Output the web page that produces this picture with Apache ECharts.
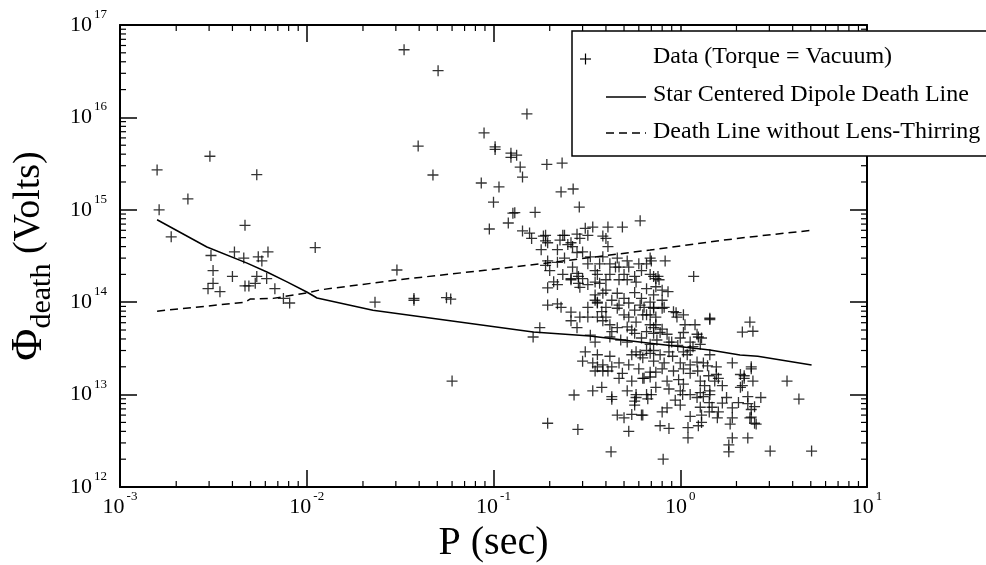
<!DOCTYPE html>
<html><head><meta charset="utf-8">
<script src="https://cdn.jsdelivr.net/npm/echarts@6/dist/echarts.min.js"></script>
<style>html,body{margin:0;padding:0;background:#fff}#c{width:986px;height:565px}</style>
</head><body><div id="c"></div>
<script>
const legendNames = ['Data (Torque = Vacuum)', 'Star Centered Dipole Death Line', 'Death Line without Lens-Thirring'];
const xName = 'P (sec)';
const xRange = [1e-3, 1e1];
const yRange = [1e12, 1e17];

// pulsar data: [P (s), Phi_death (V)]
const pulsarData = [
[1.58e-3,2.7e15],[1.62e-3,1.0e15],[1.88e-3,5.1e14],[2.31e-3,1.31e15],[3.03e-3,3.8e15],[5.4e-3,2.4e15],[4.67e-3,6.8e14],[1.11e-2,3.9e14],
[3.07e-3,3.2e14],[4.1e-3,3.5e14],[4.6e-3,3.0e14],[5.5e-3,3.1e14],[5.75e-3,2.8e14],[6.2e-3,3.5e14],[3.15e-3,2.2e14],[4.0e-3,1.9e14],[5.4e-3,1.9e14],
[2.96e-3,1.4e14],[3.15e-3,1.6e14],[3.43e-3,1.3e14],[4.67e-3,1.5e14],[4.9e-3,1.5e14],[5.3e-3,1.6e14],[6.1e-3,1.8e14],[6.75e-3,1.4e14],[7.5e-3,1.1e14],[8.1e-3,9.8e13],
[3.32e-2,5.4e16],[5.05e-2,3.2e16],[0.151,1.09e16],[3.95e-2,4.9e15],[8.9e-2,6.8e15],[0.102,4.8e15],[0.102,4.5e15],[0.124,4.1e15],[0.133,3.9e15],[0.124,3.7e15],
[0.139,2.9e15],[0.143,2.26e15],[0.193,3.1e15],[0.233,3.2e15],[4.74e-2,2.38e15],[8.6e-2,1.95e15],[0.107,1.77e15],[0.1,1.21e15],[0.23,1.56e15],[0.267,1.68e15],
[0.288,1.07e15],[0.127,9.2e14],[0.13,9.3e14],[0.167,9.4e14],[0.12,7.2e14],[0.095,6.2e14],[3.04e-2,2.23e14],[2.32e-2,1.0e14],[3.75e-2,1.05e14],[3.75e-2,1.1e14],
[5.6e-2,1.12e14],[5.9e-2,1.08e14],[6.0e-2,1.4e13],[0.163,4.2e13],[0.177,5.3e13],[0.195,4.9e12],[0.283,4.2e12],[0.426,2.4e12],
[0.61,7.6e14],[0.34,6.5e14],[0.41,6.5e14],[0.49,6.5e14],[0.31,6.3e14],[0.143,5.9e14],[0.156,5.6e14],[0.185,5.2e14],[0.19,5.3e14],[0.235,5.3e14],[0.24,5.3e14],
[0.28,5.45e14],[0.32,5.3e14],[0.385,5.2e14],[0.4,4.9e14],[0.16,4.9e14],[0.19,4.6e14],[0.227,4.7e14],[0.195,4.4e14],[0.25,4.2e14],[0.265,4.0e14],[0.41,4.0e14],
[0.18,3.7e14],[0.22,3.7e14],[0.28,3.45e14],[0.24,3.0e14],[0.33,3.1e14],[0.52,2.8e14],[0.69,3.0e14],[0.195,2.8e14],[0.19,2.5e14],[0.22,2.7e14],[0.32,2.6e14],
[0.37,2.6e14],[0.42,2.6e14],[0.45,2.4e14],[0.6,2.6e14],[0.66,2.6e14],[0.265,2.4e14],[0.2,2.2e14],[0.235,2.0e14],[0.28,2.05e14],[0.285,1.9e14],[0.36,2.0e14],
[0.42,2.0e14],[0.5,2.0e14],[0.57,1.9e14],[0.69,2.0e14],
[0.7,2.8e14],[0.83,2.8e14],[0.72,1.9e14],[0.76,1.9e14],[1.18,1.9e14],
[0.21,1.66e14],[0.195,1.43e14],[0.22,1.55e14],[0.26,1.75e14],[0.29,1.45e14],[0.32,1.55e14],[0.37,1.6e14],[0.4,1.35e14],[0.47,1.75e14],[0.52,1.75e14],
[0.58,1.65e14],[0.57,1.27e14],[0.66,1.4e14],[0.195,9.3e13],[0.22,9.6e13],[0.23,8.8e13],[0.26,7.8e13],[0.29,6.9e13],[0.32,6.9e13],[0.26,6.3e13],[0.28,5.3e13],
[0.32,8.8e13],[0.35,1.05e14],[0.36,9.8e13],[0.38,7.9e13],[0.4,8.8e13],[0.43,1.05e14],[0.46,8.6e13],[0.47,9.3e13],[0.5,7.3e13],[0.53,6.9e13],[0.57,8.2e13],
[0.61,9.3e13],[0.64,8.8e13],[0.66,7.3e13],[0.385,6.3e13],[0.42,5.7e13],[0.46,5.3e13],[0.52,5.4e13],[0.55,5.0e13],[0.33,4.4e13],[0.35,3.7e13],[0.42,4.2e13],
[0.48,3.9e13],[0.52,3.7e13],[0.62,4.1e13],[0.69,3.5e13],[0.31,2.9e13],[0.36,2.7e13],[0.3,2.3e13],[0.34,2.2e13],[0.42,2.6e13],[0.47,2.2e13],[0.55,2.7e13],
[0.58,2.9e13],[0.63,2.5e13],[0.66,3.0e13],
[0.74,1.8e14],[0.77,1.75e14],[0.74,1.47e14],[0.8,1.35e14],[0.86,1.3e14],[0.72,8.8e13],[0.82,8.8e13],[0.92,7.9e13],[0.95,7.7e13],[1.44,6.7e13],[1.44,6.5e13],
[2.36,6.1e13],[2.15,4.75e13],[2.45,4.85e13],[1.06,5.7e13],[1.2,5.7e13],[0.74,5.7e13],[0.8,5.1e13],[1.25,4.2e13],[1.3,4.1e13],[0.75,3.9e13],[0.87,3.7e13],
[0.97,3.4e13],[1.17,3.3e13],[1.44,2.7e13],[0.78,2.7e13],[0.91,2.6e13],[1.09,2.7e13],[1.23,2.25e13],[0.82,2.2e13],[1.9,2.2e13],[1.56,2.0e13],[2.4,2.0e13],[1.4,2.05e13],
[0.27,9.9e12],[0.34,1.1e13],[0.38,1.2e13],[0.43,9.5e12],[0.43,8.9e12],[0.57,8.5e12],[0.46,6.0e12],[0.5,5.6e12],[0.53,4.0e12],[0.62,6.0e12],[0.35,1.8e13],
[0.41,1.8e13],[0.47,1.5e13],[0.55,1.4e13],[0.52,1.1e13],[0.6,1.9e13],[0.64,1.5e13],[0.69,1.55e13],[0.58,9.3e12],[0.57,7.7e12],[0.66,1.0e13],[0.67,9.0e12],
[0.55,6.1e12],[0.63,6.0e12],
[0.74,1.75e13],[0.85,1.4e13],[0.98,1.45e13],[1.04,1.3e13],[1.0,1.1e13],[1.24,1.8e13],[1.42,1.6e13],[1.56,1.65e13],[1.6,1.5e13],[2.1,1.65e13],[2.2,1.5e13],
[2.4,1.9e13],[2.45,1.4e13],[2.1,1.2e13],[2.15,1.25e13],[3.73,1.4e13],[4.32,8.95e12],[0.74,1.2e13],[0.7,1.0e13],[1.23,9.3e12],[1.33,9.5e12],[1.44,1.0e13],
[1.43,8.2e12],[1.77,9.3e12],[2.05,8.2e12],[2.3,8.0e12],[2.7,9.3e12],[0.94,8.7e12],[1.0,7.7e12],[0.85,7.2e12],[0.8,6.5e12],[1.13,5.8e12],[1.3,6.0e12],
[1.43,6.5e12],[1.58,5.6e12],[1.6,6.5e12],[1.9,7.2e12],[1.9,5.6e12],[2.4,6.9e12],[2.36,5.6e12],[2.55,4.8e12],[1.3,5.0e12],[1.25,4.6e12],[0.78,4.6e12],
[0.87,4.3e12],[1.1,4.4e12],[1.85,4.8e12],[1.1,3.4e12],[1.9,3.4e12],[2.3,3.4e12],[1.82,2.85e12],[1.82,2.4e12],[3.03,2.45e12],[5.05,2.45e12],[0.81,2.0e12],
[2.3,9.5e12],[2.5,7.4e12],[2.4,5.7e12],[2.5,4.9e12],[2.2,1.6e13],
[0.26,1.8e14],[0.285,1.6e14],[0.3,1.8e14],[0.35,1.65e14],[0.4,1.75e14],[0.35,1.2e14],[0.385,1.25e14],[0.36,1.0e14],[0.46,1.25e14],[0.5,1.1e14],
[0.53,9.8e13],[0.62,1.1e14],[0.69,1.0e14],[0.72,8.6e13],[0.63,7.3e13],[0.58,6.1e13],[0.69,5.7e13],[0.66,4.8e13],[0.72,4.6e13],[0.4,6.9e13],
[0.36,6.9e13],[0.43,4.8e13],[0.57,4.6e13],[0.61,2.7e13],[0.69,2.8e13],[0.72,2.3e13],[0.53,2.1e13],[0.385,2.1e13],
[0.69,7.3e13],[0.74,6.9e13],[0.72,5.3e13],[0.78,4.7e13],[0.85,4.5e13],[0.9,3.7e13],[1.0,4.1e13],[1.04,4.7e13],[1.13,3.7e13],[1.23,4.5e13],
[1.28,3.5e13],[1.04,2.9e13],[1.13,3.0e13],[0.87,2.9e13],[0.72,3.0e13],[1.0,2.2e13],[1.13,2.1e13],[1.33,2.2e13],[0.8,8.6e13],[0.96,6.9e13],
[1.04,7.3e13],[0.72,1.2e14],[0.8,1.05e14],
[0.69,1.75e13],[0.8,1.9e13],[0.92,1.8e13],[1.04,1.9e13],[1.13,1.7e13],[1.28,1.4e13],[1.35,1.25e13],[1.53,1.4e13],[1.68,1.25e13],[1.28,1.05e13],
[1.44,1.1e13],[1.13,1.0e13],[0.87,1.15e13],[1.03,1.0e13],[1.68,8.1e12],[1.48,7.3e12],[1.28,7.3e12],
[0.36,2.0e13],[0.385,1.8e13],[0.43,2.0e13],[0.49,1.7e13],[0.63,1.5e13],[0.58,1.0e13],
[0.26,4.4e14],[0.29,4.9e14],[0.3,3.5e14],[0.385,3.1e14],[0.46,3.0e14],[0.35,2.2e14],[0.47,2.4e14],[0.53,2.4e14],[0.62,2.2e14]
];

// death lines: [P (s), Phi (V)]
const dipoleLine = [
[1.58e-3,7.8e14],[2.92e-3,3.96e14],[4.79e-3,2.65e14],[6.12e-3,2.12e14],[7.84e-3,1.66e14],[1.0e-2,1.29e14],[1.135e-2,1.11e14],
[2.26e-2,8.2e13],[0.163,4.75e13],[0.329,4.3e13],[0.689,3.6e13],[1.44,3.04e13],[2.09,2.68e13],[2.6,2.6e13],[5.05,2.09e13]
];
const noLenseThirringLine = [
[1.58e-3,8.0e13],[4.67e-3,1.0e14],[4.97e-3,1.08e14],[6.6e-3,1.1e14],[1.0e-2,1.26e14],[1.18e-2,1.36e14],[3.04e-2,1.74e14],
[9.2e-2,2.23e14],[0.193,2.65e14],[0.42,3.24e14],[0.689,3.67e14],[1.57,4.6e14],[2.36,5.08e14],[5.05,6.0e14]
];
const minorMultipliers = [2,3,4,5,6,7,8,9];

const FONT = '"Liberation Serif", "Times New Roman", serif';
const chart = echarts.init(document.getElementById('c'), null, {renderer: 'canvas'});

function expLabel(v) { const e = Math.round(Math.log10(v)); return '{b|10}{s|' + e + '}'; }
const labelRich = {
  b: {fontFamily: FONT, fontSize: 22, color: '#000', lineHeight: 34},
  s: {fontFamily: FONT, fontSize: 13, color: '#000', verticalAlign: 'top', lineHeight: 13, padding: [0, 0, 0, 2]}
};
const axisLineStyle = {color: '#000', width: 2};
const majorTick = {show: true, inside: true, length: 17, lineStyle: {color: '#000', width: 1.5}};

function makeX(pos, withLabels) {
  return {
    type: 'log', logBase: 10, min: xRange[0], max: xRange[1], splitNumber: 4, position: pos,
    axisLine: {show: true, lineStyle: axisLineStyle}, axisTick: majorTick, splitLine: {show: false}, minorTick: {show: false},
    axisLabel: {show: withLabels, formatter: expLabel, rich: labelRich, margin: 3, showMinLabel: true, showMaxLabel: true},
    name: withLabels ? xName : '', nameLocation: 'middle', nameGap: 34,
    nameTextStyle: {fontFamily: FONT, fontSize: 40, color: '#000', lineHeight: 42}
  };
}
function makeY(pos, withLabels) {
  return {
    type: 'log', logBase: 10, min: yRange[0], max: yRange[1], splitNumber: 5, position: pos,
    axisLine: {show: true, lineStyle: axisLineStyle}, axisTick: majorTick, splitLine: {show: false}, minorTick: {show: false},
    axisLabel: {show: withLabels, formatter: expLabel, rich: labelRich, margin: 13, showMinLabel: true, showMaxLabel: true},
    name: withLabels ? '{phi|\u03A6}{sub|death}{v| (Volts)}' : '', nameLocation: 'middle', nameGap: 63, nameRotate: 90,
    nameTextStyle: {rich: {
      phi: {fontFamily: FONT, fontSize: 44, color: '#000', lineHeight: 56},
      sub: {fontFamily: FONT, fontSize: 30, color: '#000', lineHeight: 30, verticalAlign: 'bottom'},
      v: {fontFamily: FONT, fontSize: 38, color: '#000', lineHeight: 56}
    }}
  };
}

const plusPath = 'path://M0,5L10,5M5,0L5,10';

chart.setOption({
  animation: false,
  backgroundColor: '#fff',
  grid: {left: 120, right: 119, top: 25, bottom: 78, containLabel: false, outerBoundsMode: 'none'},
  xAxis: [makeX('bottom', true), makeX('top', false)],
  yAxis: [makeY('left', true), makeY('right', false)],
  series: [
    {name: legendNames[0], type: 'scatter', xAxisIndex: 0, yAxisIndex: 0, data: pulsarData,
     symbol: plusPath, symbolSize: 11, itemStyle: {color: 'transparent', borderColor: '#000', borderWidth: 1.3},
     emphasis: {disabled: true}, z: 3},
    {name: legendNames[1], type: 'line', xAxisIndex: 0, yAxisIndex: 0, data: dipoleLine, symbol: 'none',
     lineStyle: {color: '#000', width: 1.5, type: 'solid'}, emphasis: {disabled: true}, z: 2},
    {name: legendNames[2], type: 'line', xAxisIndex: 0, yAxisIndex: 0, data: noLenseThirringLine, symbol: 'none',
     lineStyle: {color: '#000', width: 1.5, type: [8, 5]}, emphasis: {disabled: true}, z: 2}
  ]
});

(function addDecorations() {
  const els = [];
  const xl = chart.convertToPixel({xAxisIndex: 0}, xRange[0]);
  const xr = chart.convertToPixel({xAxisIndex: 0}, xRange[1]);
  const yb = chart.convertToPixel({yAxisIndex: 0}, yRange[0]);
  const yt = chart.convertToPixel({yAxisIndex: 0}, yRange[1]);
  const L = 6, st = {stroke: '#000', lineWidth: 1.2};
  // minor ticks on all four sides, placed through the axes' own log scales
  for (let d = Math.log10(xRange[0]); d < Math.log10(xRange[1]); d++) {
    minorMultipliers.forEach(function (m) {
      const px = chart.convertToPixel({xAxisIndex: 0}, m * Math.pow(10, d));
      els.push({type: 'line', shape: {x1: px, y1: yb, x2: px, y2: yb - L}, style: st, silent: true, z: 10});
      els.push({type: 'line', shape: {x1: px, y1: yt, x2: px, y2: yt + L}, style: st, silent: true, z: 10});
    });
  }
  for (let d = Math.log10(yRange[0]); d < Math.log10(yRange[1]); d++) {
    minorMultipliers.forEach(function (m) {
      const py = chart.convertToPixel({yAxisIndex: 0}, m * Math.pow(10, d));
      els.push({type: 'line', shape: {x1: xl, y1: py, x2: xl + L, y2: py}, style: st, silent: true, z: 10});
      els.push({type: 'line', shape: {x1: xr, y1: py, x2: xr - L, y2: py}, style: st, silent: true, z: 10});
    });
  }
  // legend box
  const lx = 572, ly = 31, rows = [57, 95, 132];
  const textStyle = {fill: '#000', font: '24px "Liberation Serif", "Times New Roman", serif', textVerticalAlign: 'middle', verticalAlign: 'middle'};
  els.push({type: 'rect', shape: {x: lx, y: ly, width: 440, height: 125}, style: {fill: '#fff', stroke: '#000', lineWidth: 1.5}, z: 20, silent: true});
  els.push({type: 'line', shape: {x1: 580, y1: rows[0] + 2, x2: 591, y2: rows[0] + 2}, style: {stroke: '#000', lineWidth: 1.2}, z: 21, silent: true});
  els.push({type: 'line', shape: {x1: 585.5, y1: rows[0] - 3.5, x2: 585.5, y2: rows[0] + 7.5}, style: {stroke: '#000', lineWidth: 1.2}, z: 21, silent: true});
  els.push({type: 'line', shape: {x1: 606, y1: rows[1] + 2, x2: 646, y2: rows[1] + 2}, style: {stroke: '#000', lineWidth: 1.5}, z: 21, silent: true});
  els.push({type: 'line', shape: {x1: 606, y1: rows[2] + 1, x2: 646, y2: rows[2] + 1}, style: {stroke: '#000', lineWidth: 1.5, lineDash: [8, 5]}, z: 21, silent: true});
  legendNames.forEach(function (n, i) {
    els.push({type: 'text', x: 653, y: rows[i], style: Object.assign({text: n}, textStyle), z: 21, silent: true});
  });
  chart.setOption({graphic: {elements: els}});
})();
</script>
</body></html>
